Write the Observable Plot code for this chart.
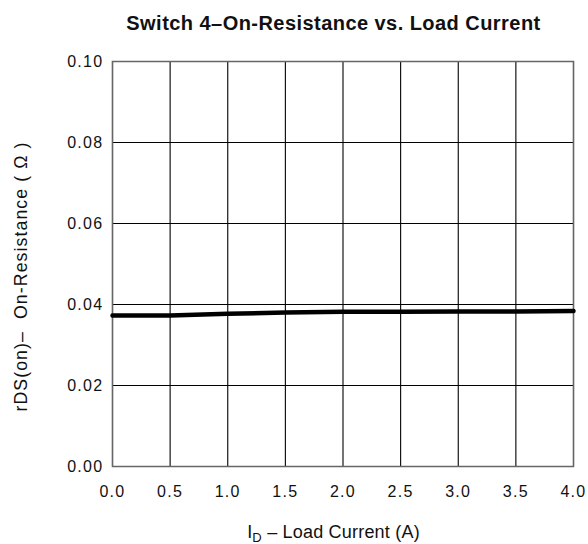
<!DOCTYPE html>
<html>
<head>
<meta charset="utf-8">
<script src="https://cdn.jsdelivr.net/npm/d3@7"></script>
<script src="https://cdn.jsdelivr.net/npm/@observablehq/plot@0.6"></script>
<style>
  html, body { margin: 0; padding: 0; background: #fff; }
  #wrap { position: relative; width: 588px; height: 544px; font-family: "Liberation Sans", Arial, sans-serif; color: #111; }
  #title { position: absolute; left: 0; top: 12.6px; width: 667px; text-align: center; font-weight: bold; font-size: 20px; line-height: 1; letter-spacing: 0.45px; white-space: nowrap; }
  #chart { position: absolute; left: 0; top: 40px; }
  #xlabel { position: absolute; left: 0; top: 522.8px; width: 667px; text-align: center; font-size: 18px; line-height: 1; letter-spacing: 0.2px; white-space: nowrap; }
  #xlabel sub { font-size: 13px; vertical-align: -4px; line-height: 0; }
</style>
</head>
<body>
<div id="wrap">
  <div id="title">Switch 4–On-Resistance vs. Load Current</div>
  <div id="chart"></div>
  <div id="xlabel">I<sub>D</sub> – Load Current (A)</div>
</div>
<script>
const current = [0.0, 0.5, 1.0, 1.5, 2.0, 2.5, 3.0, 3.5, 4.0];
const resistance = [0.0373, 0.0373, 0.0377, 0.0380, 0.0382, 0.0382, 0.0383, 0.0383, 0.0384];
const xTicks = [0, 0.5, 1, 1.5, 2, 2.5, 3, 3.5, 4];
const yTicks = [0, 0.02, 0.04, 0.06, 0.08, 0.10];
const yLabel = "rDS(on)–  On-Resistance ( Ω )";

const data = current.map((c, i) => ({x: c, y: resistance[i]}));

const chart = Plot.plot({
  width: 588,
  height: 504,
  marginTop: 21,
  marginBottom: 78,
  marginLeft: 112,
  marginRight: 15,
  style: {fontFamily: "'Liberation Sans', Arial, sans-serif", fontSize: "16px", letterSpacing: "1.3px", color: "#111", background: "#fff"},
  x: {domain: [0, 4], ticks: xTicks, tickFormat: d3.format(".1f"), tickSize: 0, tickPadding: 19, label: null},
  y: {domain: [0, 0.1], ticks: yTicks, tickFormat: d3.format(".2f"), tickSize: 0, tickPadding: 9, label: null},
  marks: [
    Plot.gridX(xTicks, {stroke: "#000", strokeOpacity: 1, strokeWidth: 1.1}),
    Plot.gridY(yTicks, {stroke: "#000", strokeOpacity: 1, strokeWidth: 1.1}),
    Plot.frame({stroke: "#666", strokeWidth: 1.5}),
    Plot.line(data, {x: "x", y: "y", stroke: "#000", strokeWidth: 4.5})
  ]
});
d3.select(chart).append("text")
  .attr("transform", "translate(26.5,236.5) rotate(-90)")
  .attr("text-anchor", "middle")
  .attr("fill", "#111")
  .style("font-size", "17.7px")
  .style("letter-spacing", "1.1px")
  .text(yLabel);
document.getElementById("chart").appendChild(chart);
</script>
</body>
</html>
